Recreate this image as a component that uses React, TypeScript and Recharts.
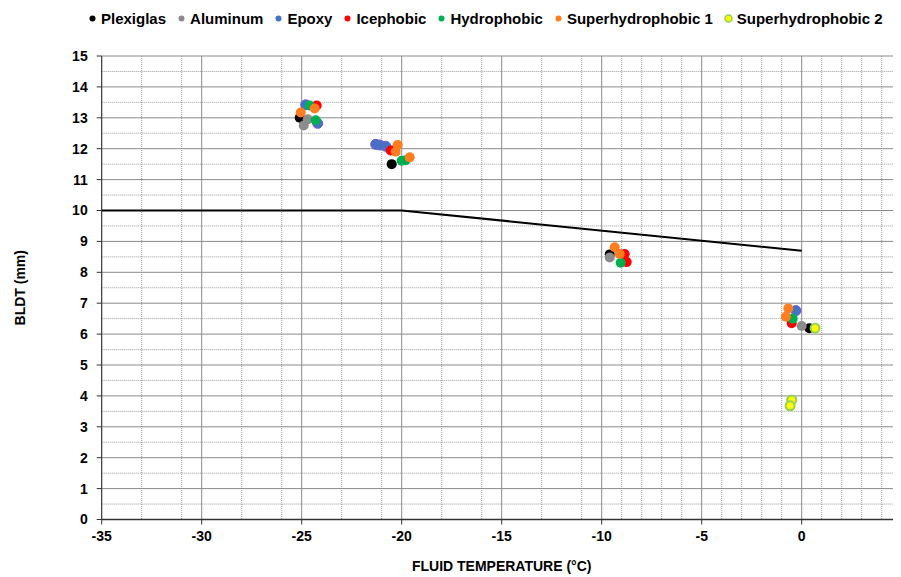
import React from 'react'
import { ScatterChart, Scatter, XAxis, YAxis, CartesianGrid } from 'recharts'

const FONT = '"Liberation Sans", Arial, sans-serif'

// axis ticks
const xTicks = [-35, -30, -25, -20, -15, -10, -5, 0, 5]
const yTicks = [0, 1, 2, 3, 4, 5, 6, 7, 8, 9, 10, 11, 12, 13, 14, 15]

// grid lines
const xMinorGrid = [
  -34, -33, -32, -31, -29, -28, -27, -26, -24, -23, -22, -21, -19, -18, -17, -16,
  -14, -13, -12, -11, -9, -8, -7, -6, -4, -3, -2, -1, 1, 2, 3, 4,
]
const yHalfGrid = [0.5, 1.5, 2.5, 3.5, 4.5, 5.5, 6.5, 7.5, 8.5, 9.5, 10.5, 11.5, 12.5, 13.5, 14.5]

// threshold line
const thresholdLine = [
  { t: -35, b: 10 },
  { t: -20, b: 10 },
  { t: 0, b: 8.7 },
]

// measured points (fluid temperature °C, BLDT mm)
const plexiglas = [
  { t: -25.1, b: 13.0 },
  { t: -20.5, b: 11.5 },
  { t: -9.6, b: 8.58 },
  { t: 0.38, b: 6.19 },
]
const aluminum = [
  { t: -24.9, b: 12.75 },
  { t: -24.7, b: 12.95 },
  { t: -20.4, b: 11.95 },
  { t: -9.6, b: 8.48 },
  { t: 0.0, b: 6.26 },
]
const epoxy = [
  { t: -24.8, b: 13.42 },
  { t: -24.2, b: 12.82 },
  { t: -21.3, b: 12.14 },
  { t: -21.1, b: 12.12 },
  { t: -20.8, b: 12.08 },
  { t: -0.29, b: 6.76 },
]
const icephobic = [
  { t: -24.25, b: 13.4 },
  { t: -20.55, b: 11.94 },
  { t: -8.85, b: 8.59 },
  { t: -8.75, b: 8.33 },
  { t: -0.5, b: 6.35 },
]
const hydrophobic = [
  { t: -24.6, b: 13.4 },
  { t: -24.3, b: 12.92 },
  { t: -20.0, b: 11.61 },
  { t: -19.8, b: 11.63 },
  { t: -9.05, b: 8.31 },
  { t: -0.45, b: 6.5 },
]
const superhydrophobic1 = [
  { t: -25.05, b: 13.17 },
  { t: -24.35, b: 13.3 },
  { t: -20.2, b: 12.12 },
  { t: -20.3, b: 11.9 },
  { t: -19.6, b: 11.72 },
  { t: -9.35, b: 8.81 },
  { t: -9.1, b: 8.59 },
  { t: -0.67, b: 6.83 },
  { t: -0.79, b: 6.56 },
]
const superhydrophobic2 = [
  { t: 0.67, b: 6.19 },
  { t: -0.5, b: 3.87 },
  { t: -0.58, b: 3.68 },
]

const SERIES = [
  { name: 'Plexiglas', data: plexiglas, fill: '#000000', stroke: '#000000', sw: 0 },
  { name: 'Aluminum', data: aluminum, fill: '#8C8C8C', stroke: '#8C8C8C', sw: 0 },
  { name: 'Epoxy', data: epoxy, fill: '#4472C4', stroke: '#6A5ACD', sw: 1 },
  { name: 'Icephobic', data: icephobic, fill: '#FF0000', stroke: '#FF0000', sw: 0 },
  { name: 'Hydrophobic', data: hydrophobic, fill: '#00B050', stroke: '#00B050', sw: 0 },
  { name: 'Superhydrophobic 1', data: superhydrophobic1, fill: '#FF7C1F', stroke: '#FF7C1F', sw: 0 },
  { name: 'Superhydrophobic 2', data: superhydrophobic2, fill: '#FFFF00', stroke: '#92D050', sw: 2 },
]

const tickStyle = { fontSize: 14, fontWeight: 700, fill: '#000', fontFamily: FONT }

function ChartLegend() {
  return (
    <div
      style={{
        position: 'absolute',
        top: 0,
        left: 80,
        height: 20,
        display: 'flex',
        alignItems: 'center',
        fontFamily: FONT,
        fontWeight: 700,
        fontSize: 15,
        color: '#000',
        whiteSpace: 'nowrap',
      }}
    >
      {SERIES.map((s) => (
        <span key={s.name} style={{ display: 'inline-flex', alignItems: 'center', marginRight: 11 }}>
          <svg width={9} height={9} style={{ marginRight: 4 }}>
            <circle
              cx={4.5}
              cy={4.5}
              r={s.sw === 2 ? 3.5 : 3}
              fill={s.fill}
              stroke={s.stroke}
              strokeWidth={s.sw === 2 ? 1.5 : 0}
            />
          </svg>
          {s.name}
        </span>
      ))}
    </div>
  )
}

export default function App() {
  return (
    <div style={{ position: 'relative', width: 900, height: 569 }}>
      <style>{'html, body { overflow: hidden; }'}</style>
      <ScatterChart width={900} height={569} margin={{ top: 48, right: 6.3, bottom: 2.5, left: 0 }}>
        <CartesianGrid
          stroke="#9A9A9A"
          strokeDasharray="1 1"
          horizontal={false}
          verticalValues={xMinorGrid}
        />
        <CartesianGrid
          stroke="#9A9A9A"
          strokeDasharray="1 1"
          vertical={false}
          horizontalValues={yHalfGrid}
        />
        <CartesianGrid stroke="#8A8A8A" verticalValues={xTicks} horizontalValues={yTicks} />
        <XAxis
          type="number"
          dataKey="t"
          domain={[-35, 5]}
          ticks={xTicks}
          allowDataOverflow
          tick={tickStyle}
          tickSize={5}
          tickMargin={7}
          height={55}
          axisLine={{ stroke: '#333', strokeWidth: 1.5 }}
          tickLine={{ stroke: '#333' }}
          label={{
            value: 'FLUID TEMPERATURE (°C)',
            position: 'insideBottom',
            offset: 3.5,
            style: { ...tickStyle },
          }}
        />
        <YAxis
          type="number"
          dataKey="b"
          domain={[0, 15]}
          ticks={yTicks}
          allowDataOverflow
          tick={tickStyle}
          tickSize={5}
          tickMargin={9}
          width={93.7}
          axisLine={{ stroke: '#333' }}
          tickLine={{ stroke: '#333' }}
          label={{
            value: 'BLDT (mm)',
            angle: -90,
            position: 'insideLeft',
            offset: 12,
            style: { ...tickStyle, textAnchor: 'middle' },
          }}
        />
        <Scatter
          data={thresholdLine}
          line={{ stroke: '#000', strokeWidth: 2 }}
          shape={() => <g />}
          legendType="none"
          isAnimationActive={false}
        />
        {SERIES.map((s) => (
          <Scatter
            key={s.name}
            name={s.name}
            data={s.data}
            isAnimationActive={false}
            shape={(p: any) => (
              <circle
                cx={p.cx}
                cy={p.cy}
                r={s.sw === 2 ? 4.5 : 5}
                fill={s.fill}
                stroke={s.stroke}
                strokeWidth={s.sw}
              />
            )}
          />
        ))}
      </ScatterChart>
      <ChartLegend />
    </div>
  )
}
